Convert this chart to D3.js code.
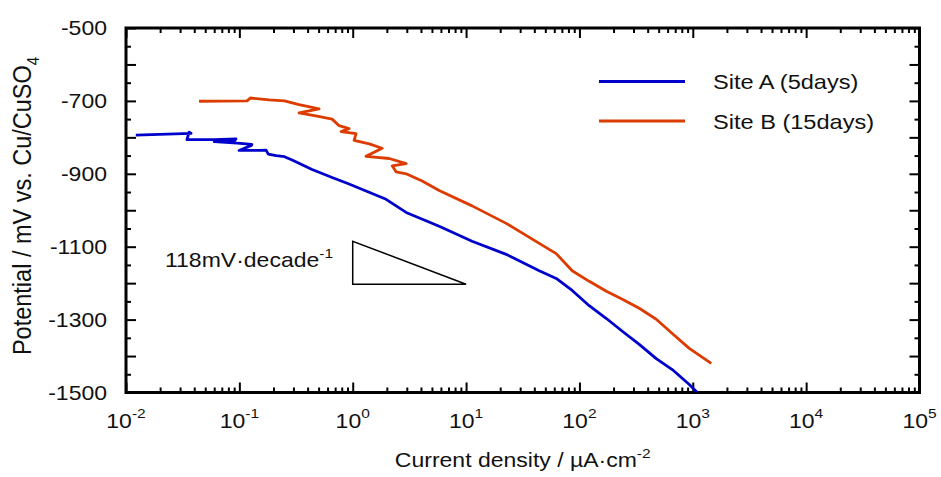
<!DOCTYPE html>
<html><head><meta charset="utf-8">
<script src="https://cdn.jsdelivr.net/npm/d3@7"></script>
<style>body{margin:0;background:#fff}svg{display:block}</style>
</head><body>
<svg id="chart" width="941" height="477"></svg>
<script>
// ---- data (current density in µA/cm², potential in mV vs Cu/CuSO4) ----
const currentA = [0.0122,0.0375,0.0360,0.0345,0.0600,0.0935,0.0900,0.0600,0.0955,0.129,0.128,0.0994,0.150,0.172,0.180,0.211,0.250,0.292,0.438,0.658,0.929,1.31,1.97,2.96,5.79,11.3,22.6,44.2,62.4,86.3,122,173,239,337,476,659,931,1096];
const potentialA = [-794,-789,-786,-806,-806,-804,-810,-812,-816,-819,-822,-836,-836,-835,-846,-850,-853,-862,-888,-910,-928,-947,-970,-1006,-1044,-1085,-1121,-1166,-1187,-1220,-1262,-1297,-1332,-1368,-1407,-1437,-1478,-1500];
const currentB = [0.0441,0.117,0.125,0.183,0.250,0.336,0.505,0.336,0.485,0.658,0.759,0.929,0.790,1.07,1.03,1.40,1.82,1.31,2.10,2.96,2.23,2.42,2.96,4.10,5.79,11.3,22.6,44.2,62.4,86.3,122,173,239,337,476,659,931,1455];
const potentialB = [-701,-700,-692,-697,-700,-710,-722,-733,-742,-750,-768,-776,-784,-790,-808,-818,-830,-852,-858,-872,-878,-895,-900,-920,-946,-988,-1036,-1091,-1119,-1166,-1195,-1222,-1244,-1269,-1299,-1338,-1379,-1420];
const seriesNames = ["Site A (5days)", "Site B (15days)"];
const seriesColors = ["#0000cc", "#dc3c00"];
const xTickExponents = [-2,-1,0,1,2,3,4,5];
const yTickLabels = [-500,-700,-900,-1100,-1300,-1500];
const slopeCurrents = [1, 10];
const slopePotentials = [-1085, -1203];
const slopeLabel = "118mV·decade";

// ---- layout ----
const L = 126, R = 919.5, T = 28, B = 392.5;
const SX = 1.15;           // horizontal stretch of the original text
const FS = 20;
const FONT = "'Liberation Sans', Arial, sans-serif";
const svg = d3.select("#chart");
const x = d3.scaleLog().domain([1e-2, 1e5]).range([L, R]);
const y = d3.scaleLinear().domain([-1500, -500]).range([B, T]);

svg.append("defs").append("clipPath").attr("id","clip")
  .append("rect").attr("x",L).attr("y",T).attr("width",R-L).attr("height",B-T);

// ---- ticks ----
const majorX = xTickExponents.map(e => Math.pow(10, e));
const minorX = [];
xTickExponents.slice(0,-1).forEach(e => { for (let m=2;m<=9;m++) minorX.push(m*Math.pow(10,e)); });
const majorY = d3.range(-1500, -499, 100);
const minorY = d3.range(-1450, -500, 100);

function styleAxis(g){ g.select(".domain").remove(); g.selectAll("line").attr("stroke","#000").attr("stroke-width",2); g.selectAll("text").remove(); }
[[majorX,10],[minorX,5]].forEach(([vals,len])=>{
  svg.append("g").attr("transform",`translate(0,${B})`).call(d3.axisBottom(x).tickValues(vals).tickSizeInner(-len).tickSizeOuter(0)).call(styleAxis);
  svg.append("g").attr("transform",`translate(0,${T})`).call(d3.axisTop(x).tickValues(vals).tickSizeInner(-len).tickSizeOuter(0)).call(styleAxis);
});
[[majorY,10],[minorY,5]].forEach(([vals,len])=>{
  svg.append("g").attr("transform",`translate(${L},0)`).call(d3.axisLeft(y).tickValues(vals).tickSizeInner(-len).tickSizeOuter(0)).call(styleAxis);
  svg.append("g").attr("transform",`translate(${R},0)`).call(d3.axisRight(y).tickValues(vals).tickSizeInner(-len).tickSizeOuter(0)).call(styleAxis);
});
svg.append("rect").attr("x",L).attr("y",T).attr("width",R-L).attr("height",B-T)
  .attr("fill","none").attr("stroke","#000").attr("stroke-width",3);

function stext(px, py, anchor, size){
  return svg.append("text").attr("transform",`translate(${px},${py}) scale(${SX},1)`)
    .attr("text-anchor",anchor).attr("font-family",FONT).attr("font-size",size).attr("fill","#111");
}

// y tick labels
yTickLabels.forEach(v => stext(107, y(v)+7, "end", FS).text(v));
// x tick labels
xTickExponents.forEach(e => {
  const t = stext(x(Math.pow(10,e)), 428, "middle", FS);
  t.append("tspan").text("10");
  t.append("tspan").attr("dy",-10).attr("font-size",13.5).text(e);
});
// x title
const xt = stext((L+R)/2, 467, "middle", FS);
xt.append("tspan").text("Current density / µA·cm");
xt.append("tspan").attr("dy",-9).attr("font-size",13.5).text("-2");
// y title
const yt = svg.append("text").attr("transform",`translate(31,206) scale(1.1,1) rotate(-90)`)
  .attr("text-anchor","middle").attr("font-family",FONT).attr("font-size",23.5).attr("fill","#111");
yt.append("tspan").text("Potential / mV vs. Cu/CuSO");
yt.append("tspan").attr("dy",7).attr("font-size",15).text("4");

// ---- curves ----
const line = d3.line().x(d=>x(d[0])).y(d=>y(d[1]));
const dataA = currentA.map((c,i)=>[c, potentialA[i]]);
const dataB = currentB.map((c,i)=>[c, potentialB[i]]);
const plot = svg.append("g").attr("clip-path","url(#clip)");
[dataA, dataB].forEach((d,i)=>{
  plot.append("path").datum(d).attr("d",line).attr("fill","none")
    .attr("stroke",seriesColors[i]).attr("stroke-width",2.8).attr("stroke-linejoin","round");
});

// ---- slope triangle ----
const tri = [[slopeCurrents[0],slopePotentials[0]],[slopeCurrents[0],slopePotentials[1]],[slopeCurrents[1],slopePotentials[1]]];
svg.append("path").attr("d", line(tri)+"Z").attr("fill","none").attr("stroke","#000").attr("stroke-width",1.5);
const st = stext(165, 267, "start", FS);
st.append("tspan").text(slopeLabel);
st.append("tspan").attr("dy",-9).attr("font-size",13.5).text("-1");

// ---- legend ----
seriesNames.forEach((n,i)=>{
  const ly = 81.5 + i*39.5;
  svg.append("line").attr("x1",599).attr("x2",685).attr("y1",ly).attr("y2",ly)
    .attr("stroke",seriesColors[i]).attr("stroke-width",3);
  stext(713, ly+7.5, "start", 20.5).text(n);
});
</script>
</body></html>
